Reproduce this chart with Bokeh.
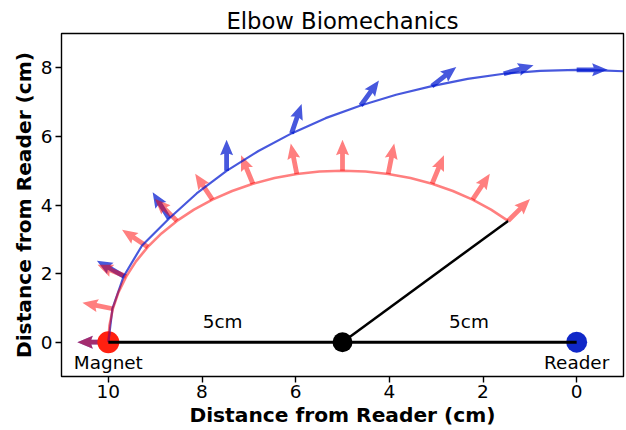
import math
from bokeh.plotting import figure
from bokeh.models import Range1d, FixedTicker, ColumnDataSource
from bokeh.core.properties import value
from bokeh.embed import file_html
from bokeh.resources import INLINE

# ---------------- data ----------------
# forearm arc (elbow at (5,0), magnet sweeps from x=10 to the end of the forearm)
arc_x = [10.0, 9.976, 9.904, 9.785, 9.619, 9.410, 9.157, 8.865, 8.536, 8.172, 7.778, 7.357,
         6.913, 6.451, 5.975, 5.490, 5.0, 4.510, 4.025, 3.549, 3.087, 2.643, 2.222, 1.828, 1.464]
arc_y = [0.0, 0.490, 0.975, 1.451, 1.913, 2.357, 2.778, 3.172, 3.536, 3.865, 4.157, 4.410,
         4.619, 4.785, 4.904, 4.976, 5.0, 4.976, 4.904, 4.785, 4.619, 4.410, 4.157, 3.865, 3.536]

# red arrows on the arc (base points and direction in degrees, 0 = toward +x)
red_ax = [10.0, 9.904, 9.619, 9.157, 8.536, 7.778, 6.913, 5.975, 5.0, 4.025, 3.087, 2.222, 1.464]
red_ay = [0.0, 0.975, 1.913, 2.778, 3.536, 4.157, 4.619, 4.904, 5.0, 4.904, 4.619, 4.157, 3.536]
red_dir = [0.0, 11.25, 22.5, 33.75, 45.0, 56.25, 67.5, 78.75, 90.0, 101.25, 112.5, 123.75, 135.0]

# blue curve
blue_x = [10.0, 9.912, 9.671, 9.28, 8.703, 8.114, 7.475, 6.795, 6.088, 5.361, 4.611, 3.856,
          3.092, 2.328, 1.557, 0.779, 0.0, -0.5, -1.0]
blue_y = [0.0, 0.976, 1.924, 2.82, 3.605, 4.337, 4.995, 5.576, 6.088, 6.532, 6.901, 7.214,
          7.465, 7.675, 7.827, 7.912, 7.94, 7.925, 7.90]

# blue arrows on the blue curve
blue_ax = [10.0, 9.671, 8.703, 7.475, 6.088, 4.611, 3.092, 1.557, 0.0]
blue_ay = [0.0, 1.924, 3.605, 4.995, 6.088, 6.901, 7.465, 7.827, 7.94]
blue_dir = [0.0, 30.0, 58.0, 90.0, 109.0, 126.0, 142.0, 164.0, 180.0]

# points and segments
magnet = (10.0, 0.0)
elbow = (5.0, 0.0)
reader = (0.0, 0.0)
forearm_end = (1.464, 3.536)

labels_text = ["Magnet", "Reader", "5cm", "5cm"]
labels_x = [10.0, 0.0, 7.56, 2.3]
labels_y = [-0.58, -0.58, 0.6, 0.6]

x_ticks = [0, 2, 4, 6, 8, 10]
y_ticks = [0, 2, 4, 6, 8]

# ---------------- layout ----------------
W, H = 626, 430
ML, MR, MT, MB = 61, 3, 33, 54
FW, FH = W - ML - MR, H - MT - MB
XR = (11.0, -1.0)
YR = (-1.0, 9.0)
sx = FW / abs(XR[1] - XR[0])   # px per x unit
sy = FH / (YR[1] - YR[0])      # px per y unit

FONT = "DejaVu Sans"


def arrow_polys(bx, by, dirs, L=31.0, w=4.8, hw=13.0, hl=15.5):
    xs, ys = [], []
    for x0, y0, d in zip(bx, by, dirs):
        a = math.radians(d)
        ux, uy = -math.cos(a), math.sin(a)      # screen direction (x reversed)
        px, py = -uy, ux
        pts = [(0, -w / 2), (L - 0.9 * hl, -w / 2), (L - hl, -hw / 2), (L, 0),
               (L - hl, hw / 2), (L - 0.9 * hl, w / 2), (0, w / 2)]
        xx, yy = [], []
        for s, t in pts:
            X = s * ux + t * px
            Y = s * uy + t * py
            xx.append(x0 - X / sx)
            yy.append(y0 + Y / sy)
        xs.append(xx)
        ys.append(yy)
    return xs, ys


p = figure(width=W, height=H, x_range=Range1d(*XR), y_range=Range1d(*YR),
           output_backend="svg", toolbar_location=None,
           min_border_left=ML, min_border_right=MR, min_border_top=MT, min_border_bottom=MB,
           title="Elbow Biomechanics")
p.background_fill_color = "white"
p.border_fill_color = "white"
p.grid.visible = False
p.outline_line_color = "black"
p.outline_line_width = 1.4

p.title.align = "center"
p.title.text_font = FONT
p.title.text_font_size = "22.7px"
p.title.text_font_style = "normal"
p.title.text_color = "black"
p.title.standoff = 0

for ax in (p.xaxis, p.yaxis):
    ax.axis_line_color = None
    ax.major_tick_line_color = "black"
    ax.major_tick_line_width = 1.4
    ax.major_tick_out = 6
    ax.major_tick_in = 0
    ax.minor_tick_line_color = None
    ax.major_label_text_font = FONT
    ax.major_label_text_font_size = "18.5px"
    ax.major_label_text_color = "black"
    ax.axis_label_text_font = FONT
    ax.axis_label_text_font_size = "20.2px"
    ax.axis_label_text_font_style = "bold"
    ax.axis_label_text_color = "black"

p.xaxis.ticker = FixedTicker(ticks=x_ticks)
p.yaxis.ticker = FixedTicker(ticks=y_ticks)
p.xaxis.axis_label = "Distance from Reader (cm)"
p.yaxis.axis_label = "Distance from Reader (cm)"
p.xaxis.major_label_standoff = 2
p.xaxis.axis_label_standoff = 2
p.yaxis.major_label_standoff = 3
p.yaxis.axis_label_standoff = 2

# arrows
bxs, bys = arrow_polys(blue_ax, blue_ay, blue_dir)
p.patches(bxs, bys, fill_color="#0018d0", fill_alpha=0.72, line_color=None)
rxs, rys = arrow_polys(red_ax, red_ay, red_dir)
p.patches(rxs, rys, fill_color="red", fill_alpha=0.5, line_color=None)

# dots
p.scatter([magnet[0]], [magnet[1]], size=22, fill_color="#ff2010", line_color=None)
p.scatter([reader[0]], [reader[1]], size=21, fill_color="#1028c8", line_color=None)
p.scatter([elbow[0]], [elbow[1]], size=20, fill_color="black", line_color=None)

# curves
p.line(blue_x, blue_y, line_color="#0018d0", line_alpha=0.72, line_width=2.2)
p.line(arc_x, arc_y, line_color="red", line_alpha=0.5, line_width=2.6)
p.line([magnet[0], reader[0]], [magnet[1], reader[1]], line_color="black", line_width=3)
p.line([elbow[0], forearm_end[0]], [elbow[1], forearm_end[1]], line_color="black", line_width=2.5)

src = ColumnDataSource(dict(x=labels_x, y=labels_y, t=labels_text))
p.text("x", "y", text="t", source=src, text_align="center", text_baseline="middle",
       text_font=value(FONT), text_font_size="18.4px", text_color="black")

open("out.html", "w").write(file_html(p, INLINE))
